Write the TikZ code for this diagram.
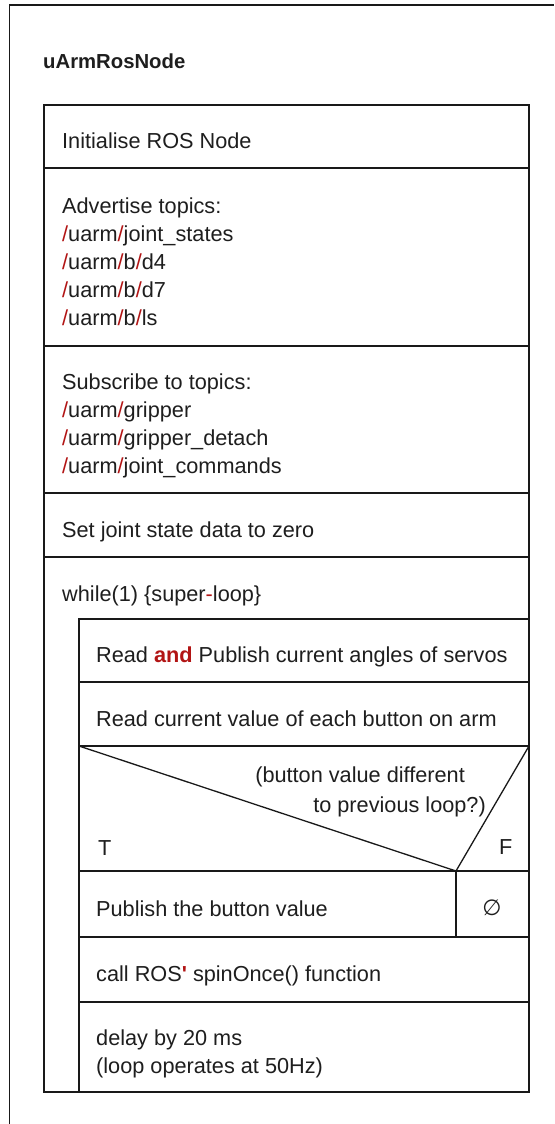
\documentclass[tikz,border=0pt]{standalone}
\usepackage{fontspec}
\setmainfont{Liberation Sans}
\newfontfamily\symfont{DejaVu Sans}
\definecolor{tred}{RGB}{178,20,20}
\definecolor{lincol}{RGB}{25,25,25}
\definecolor{txtcol}{RGB}{30,30,30}
\newcommand\rs{\textcolor{tred}{/}}
\begin{document}
\begin{tikzpicture}[x=1pt,y=-1pt,
  frame/.style={draw=lincol,line width=1.6pt},
  txt/.style={anchor=base west,inner sep=0pt,text=txtcol,font=\fontsize{21.7}{28}\selectfont},
  ttl/.style={anchor=base west,inner sep=0pt,text=txtcol,font=\fontsize{20.3}{24}\selectfont\bfseries}]
\useasboundingbox (0,0) rectangle (554,1124);
\fill[white] (0,0) rectangle (554,1124);
% outer frame (cut by the page at right and bottom)
\draw[frame] (9.5,1124) -- (9.5,5) -- (554,5);
\node[ttl] (title) at (43,68) {uArmRosNode};
% main block
\draw[frame] (44,105) rectangle (529,1092);
\foreach \yy in {168,346,493,557} \draw[frame] (44,\yy) -- (529,\yy);
% loop body
\draw[frame] (79,619) rectangle (529,1092);
\foreach \yy in {682,746,871,937,1002} \draw[frame] (79,\yy) -- (529,\yy);
% decision
\coordinate (dl) at (79,746);
\coordinate (dr) at (529,746);
\coordinate (apex) at (456,871);
\coordinate (split) at (456,937);
\draw[frame,line width=1.3pt] (dl) -- (apex) -- (dr);
\draw[frame] (apex) -- (split);
% texts
\node[txt] (init) at (62,148.5) {Initialise ROS Node};
\node[txt] (adv0) at (62,213) {Advertise topics:};
\node[txt] (adv1) at (62,241) {\rs uarm\rs joint\_states};
\node[txt] (adv2) at (62,269) {\rs uarm\rs b\rs d4};
\node[txt] (adv3) at (62,297) {\rs uarm\rs b\rs d7};
\node[txt] (adv4) at (62,325) {\rs uarm\rs b\rs ls};
\node[txt] (sub0) at (62,389.5) {Subscribe to topics:};
\node[txt] (sub1) at (62,417.5) {\rs uarm\rs gripper};
\node[txt] (sub2) at (62,445.5) {\rs uarm\rs gripper\_detach};
\node[txt] (sub3) at (62,473.5) {\rs uarm\rs joint\_commands};
\node[txt] (zero) at (62,537) {Set joint state data to zero};
\node[txt] (loop) at (62,601) {while(1) \{super\textcolor{tred}{-}loop\}};
\node[txt] (rap) at (96,662.5) {Read \textcolor{tred}{\textbf{and}} Publish current angles of servos};
\node[txt] (rcv) at (96,726) {Read current value of each button on arm};
\node[txt,anchor=base east] (cond1) at (465,782) {(button value different};
\node[txt,anchor=base east] (cond2) at (486,812) {to previous loop?)};
\node[txt] (tlab) at (98,855) {T};
\node[txt] (flab) at (499,854) {F};
\node[txt] (pub) at (96,916) {Publish the button value};
\node[inner sep=0pt,text=txtcol,font=\symfont\fontsize{22}{24}\selectfont] (empty) at (492,908) {∅};
\node[txt] (spin) at (96,981.5) {call ROS\textcolor{tred}{\textbf{\textquotesingle}} spinOnce() function};
\node[txt] (del1) at (96,1045) {delay by 20 ms};
\node[txt] (del2) at (96,1073) {(loop operates at 50Hz)};
\end{tikzpicture}
\end{document}
